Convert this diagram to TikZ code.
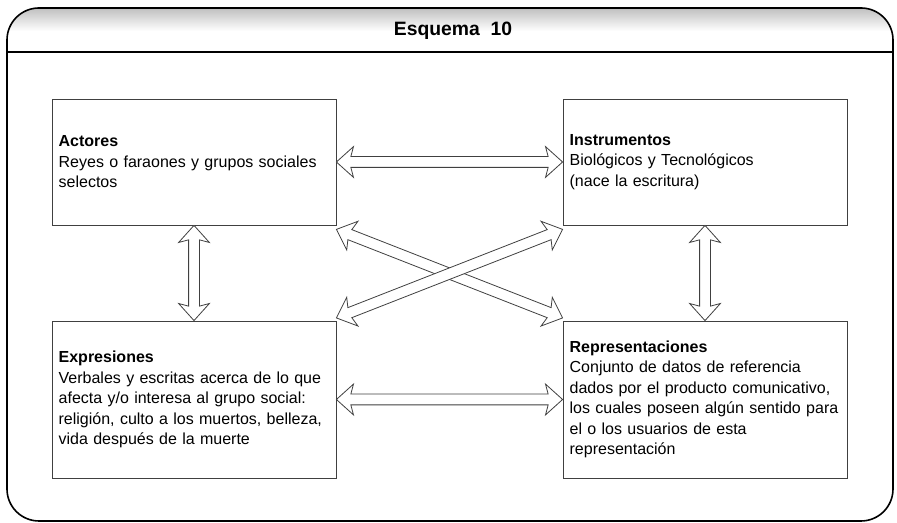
\documentclass[tikz,border=0pt]{standalone}
\usepackage{fontspec}
\setmainfont{Liberation Sans}
\usetikzlibrary{shapes.arrows,calc}

\tikzset{
  caja/.style={draw=black!75, line width=0.6pt, text width=203pt, inner xsep=5pt, inner ysep=6pt,
    align=left, font=\fontsize{12}{15.4}\selectfont},
  flecha/.style={double arrow, draw=black!75, fill=white, line width=0.6pt,
    inner xsep=0pt, inner ysep=3.75pt, double arrow head extend=7.5pt,
    double arrow tip angle=84, double arrow head indent=2pt},
}

%% flecha doble hueca entre dos anclas
\newcommand{\flechadoble}[2]{%
  \path let \p1=(#1), \p2=(#2), \n1={atan2(\y2-\y1,\x2-\x1)}, \n2={veclen(\x2-\x1,\y2-\y1)} in
    node[flecha, rotate=\n1, minimum height=\n2] at ($(\p1)!0.5!(\p2)$) {};}

\begin{document}
\begin{tikzpicture}[x=0.75pt,y=0.75pt]
   \useasboundingbox (0,0) rectangle (897,523);

   %% Marco
   \begin{scope}
     \clip[rounded corners=24pt] (7,2) rectangle (893,515);
     \shade[top color=black!25, bottom color=white] (7,492) rectangle (893,515);
   \end{scope}
   \draw[line width=1.2pt, rounded corners=24pt] (7,2) rectangle (893,515);
   \draw[line width=0.9pt] (7,471) -- (893,471);
   \node[font=\fontsize{14.5}{17}\selectfont\bfseries] (titulo) at (453,492) {Esquema\ \ 10};

   %% Cajas
   \node[caja, minimum height=94.5pt] (act) at (194,361)
     {\textbf{Actores}\\Reyes o faraones y grupos sociales\\selectos};
   \node[caja, minimum height=94.5pt] (ins) at (705,361)
     {\textbf{Instrumentos}\\Biológicos y Tecnológicos\\(nace la escritura)};
   \node[caja, minimum height=117.75pt] (exp) at (194,123.5)
     {\textbf{Expresiones}\\Verbales y escritas acerca de lo que\\afecta y/o interesa al grupo social:\\religión, culto a los muertos, belleza,\\vida después de la muerte};
   \node[caja, minimum height=117.75pt] (rep) at (705,123.5)
     {\textbf{Representaciones}\\Conjunto de datos de referencia\\dados por el producto comunicativo,\\los cuales poseen algún sentido para\\el o los usuarios de esta\\representación};

   %% Flechas
   \flechadoble{act.east}{ins.west}
   \flechadoble{exp.east}{rep.west}
   \flechadoble{act.south}{exp.north}
   \flechadoble{ins.south}{rep.north}
   \flechadoble{$(act.south east)+(0,-3pt)$}{$(rep.north west)+(0,2pt)$}
   \flechadoble{$(exp.north east)+(0,2pt)$}{$(ins.south west)+(0,-3pt)$}
\end{tikzpicture}
\end{document}
